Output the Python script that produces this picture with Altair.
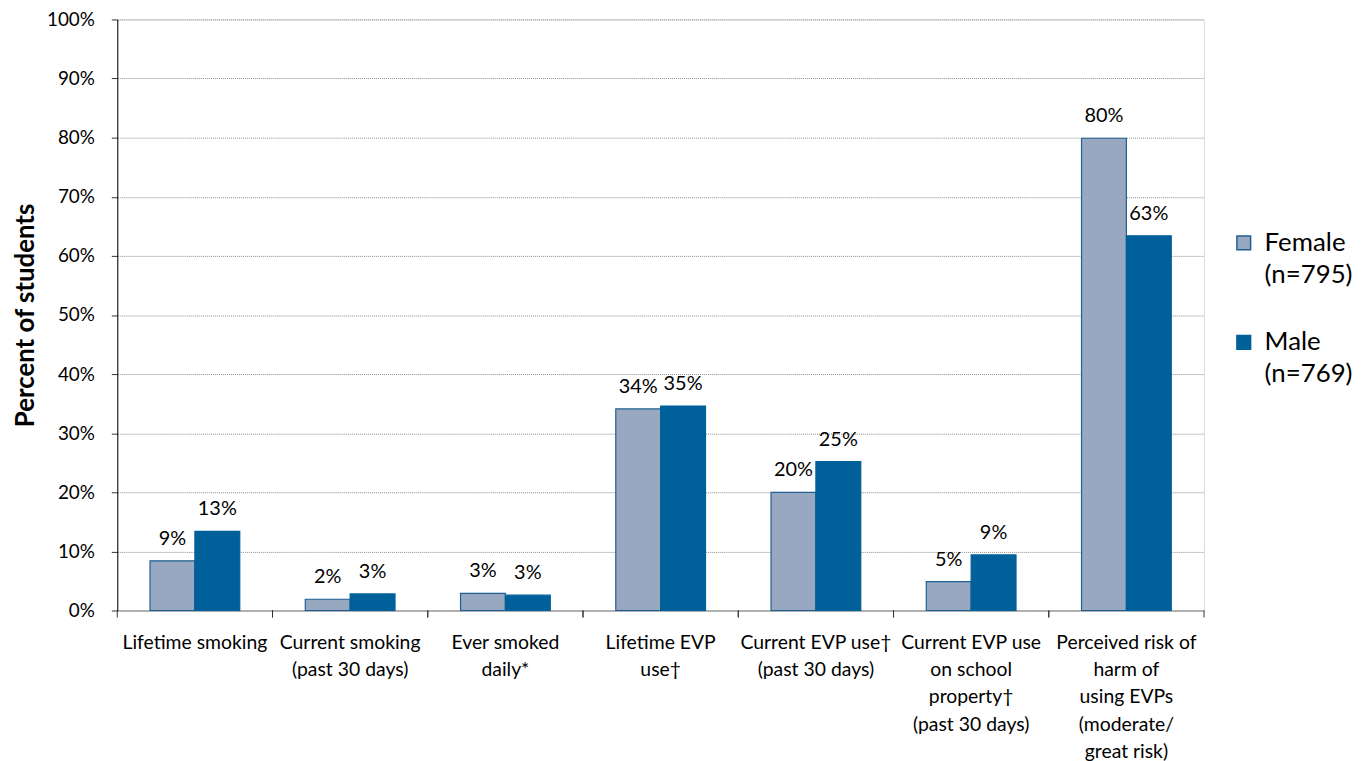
import altair as alt
import pandas as pd

categories = [
    "Lifetime smoking",
    "Current smoking|(past 30 days)",
    "Ever smoked|daily*",
    "Lifetime EVP|use†",
    "Current EVP use†|(past 30 days)",
    "Current EVP use|on school|property†|(past 30 days)",
    "Perceived risk of|harm of|using EVPs|(moderate/|great risk)",
]
female_values = [8.4, 1.9, 2.9, 34.1, 20.0, 4.9, 79.9]
male_values = [13.4, 2.8, 2.6, 34.6, 25.2, 9.4, 63.4]
female_labels = ["9%", "2%", "3%", "34%", "20%", "5%", "80%"]
male_labels = ["13%", "3%", "3%", "35%", "25%", "9%", "63%"]
groups = ["Female|(n=795)", "Male|(n=769)"]
colors = ["#97A8C0", "#00609A"]
strokes = ["#1F5F94", "#00609A"]

rows = []
for i, c in enumerate(categories):
    rows.append({"cat": c, "grp": groups[0], "val": female_values[i], "lab": female_labels[i]})
    rows.append({"cat": c, "grp": groups[1], "val": male_values[i], "lab": male_labels[i]})
df = pd.DataFrame(rows)

FONT = "Lato"
W, H = 1094, 595

x_enc = alt.X("cat:N", sort=categories, scale=alt.Scale(paddingInner=0, paddingOuter=0),
              axis=alt.Axis(title=None, labelExpr="split(datum.label, '|')", ticks=False,
                            labelAngle=0, labelFontSize=19.5, labelColor="#000000", labelFont=FONT,
                            labelPadding=23, labelLineHeight=27.5, domainColor="#8c8c8c",
                            labelLimit=250, domainWidth=1))
xo = alt.XOffset("grp:N", sort=groups, scale=alt.Scale(paddingOuter=0.73, paddingInner=0))
y_enc = alt.Y("val:Q", scale=alt.Scale(domain=[0, 100]),
              axis=alt.Axis(title="Percent of students", values=list(range(0, 101, 10)),
                            labelExpr="datum.value + '%'", labelFontSize=19, labelFont=FONT,
                            labelColor="#000000", labelPadding=17, tickSize=6, tickColor="#333333",
                            domainColor="#000000", titleFontSize=26, titleFont=FONT,
                            titleFontWeight="bold", titleColor="#000000", titlePadding=8,
                            grid=True, gridColor="#8a8a8a", gridDash=[1, 1], gridWidth=1))

bars = alt.Chart(df).mark_bar(strokeWidth=1.2).encode(
    x=x_enc,
    xOffset=xo,
    y=y_enc,
    color=alt.Color("grp:N", sort=groups, scale=alt.Scale(domain=groups, range=colors),
                    legend=alt.Legend(title=None, orient="none", legendX=1121, legendY=212,
                                      labelExpr="split(datum.label, '|')", labelFontSize=26,
                                      labelFont=FONT, labelColor="#000000", symbolType="square",
                                      symbolSize=190, symbolStrokeWidth=1.5, rowPadding=42,
                                      labelOffset=8)),
    stroke=alt.Stroke("grp:N", sort=groups, scale=alt.Scale(domain=groups, range=strokes), legend=None),
)

labels = alt.Chart(df).mark_text(baseline="bottom", dy=-12, fontSize=20, font=FONT, color="#000000").encode(
    x=alt.X("cat:N", sort=categories),
    xOffset=xo,
    y="val:Q",
    text="lab:N",
)

tick_df = pd.DataFrame({"cat": categories})
ticks = alt.Chart(tick_df).mark_rule(color="#333333", strokeWidth=1).encode(
    x=alt.X("cat:N", sort=categories, bandPosition=0),
    y=alt.value(H),
    y2=alt.value(H + 7),
)
end_tick = alt.Chart(tick_df).mark_rule(color="#333333", strokeWidth=1).encode(
    x=alt.X("cat:N", sort=categories, bandPosition=1),
    y=alt.value(H),
    y2=alt.value(H + 7),
)

chart = alt.layer(bars, labels, ticks, end_tick).properties(width=W, height=H).configure_view(
    stroke=None
).configure(padding={"left": 4, "top": 0, "right": 5, "bottom": 0},
            style={"guide-label": {"lineHeight": 32}})

chart.save("out.html", embed_options={"renderer": "svg", "actions": False})
